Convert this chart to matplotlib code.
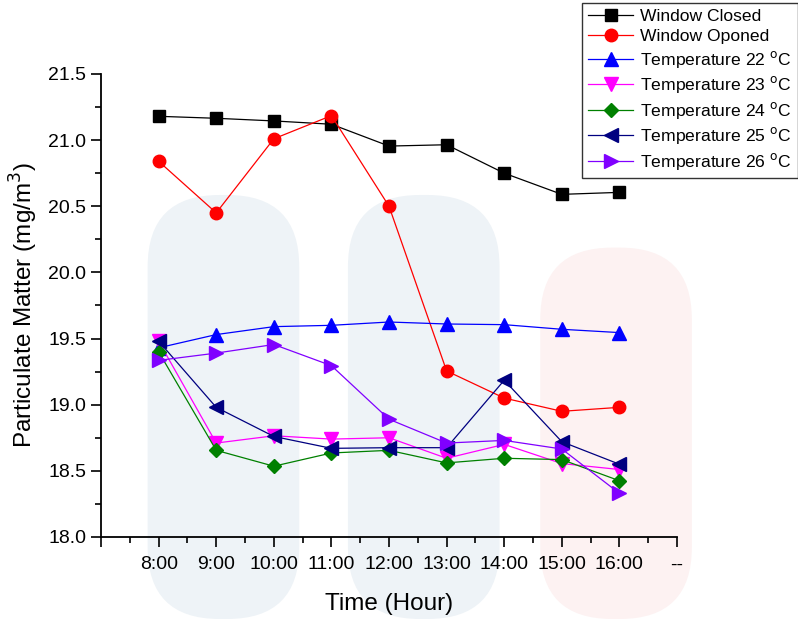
import numpy as np
import matplotlib
matplotlib.use('Agg')
from matplotlib import pyplot as plt
from matplotlib.patches import FancyBboxPatch
from matplotlib.ticker import MultipleLocator, FixedLocator

plt.rcParams['font.family'] = ['Liberation Sans', 'DejaVu Sans']

hours = ['8:00', '9:00', '10:00', '11:00', '12:00', '13:00', '14:00', '15:00', '16:00']
window_closed = [21.18, 21.165, 21.145, 21.12, 20.955, 20.965, 20.75, 20.59, 20.605]
window_opened = [20.84, 20.45, 21.01, 21.185, 20.50, 19.255, 19.05, 18.95, 18.98]
temp_22 = [19.43, 19.53, 19.59, 19.60, 19.625, 19.61, 19.605, 19.57, 19.545]
temp_23 = [19.48, 18.71, 18.765, 18.74, 18.75, 18.595, 18.70, 18.555, 18.51]
temp_24 = [19.40, 18.655, 18.535, 18.635, 18.655, 18.56, 18.595, 18.585, 18.425]
temp_25 = [19.48, 18.98, 18.76, 18.67, 18.675, 18.675, 19.185, 18.72, 18.55]
temp_26 = [19.335, 19.39, 19.455, 19.295, 18.89, 18.71, 18.73, 18.665, 18.33]

fig = plt.figure(figsize=(7.98, 6.19), dpi=100)
fig.patch.set_facecolor('w')

# faint watermark in the background
for x0, y0, w, h, c in [(0.185, 0.0, 0.19, 0.685, '#eef3f7'),
                        (0.436, 0.0, 0.19, 0.685, '#eef3f7'),
                        (0.677, 0.0, 0.19, 0.60, '#fdf2f2')]:
    fig.patches.append(FancyBboxPatch((x0, y0), w, h, boxstyle='round,pad=0,rounding_size=0.09',
                                      transform=fig.transFigure, fc=c, ec='none', zorder=-5,
                                      mutation_aspect=798 / 619))

ax = fig.add_axes([0.1266, 0.1325, 0.7218, 0.748])
ax.patch.set_alpha(0)
ax.set_zorder(1)

x = np.arange(1, len(hours) + 1)
ms = 8.5
ax.plot(x, window_closed, color='black', marker='s', ms=ms, lw=0.9, label='Window Closed')
ax.plot(x, window_opened, color='red', marker='o', ms=ms + 0.5, lw=0.9, label='Window Oponed')
ax.plot(x, temp_22, color='#0000ff', marker='^', ms=ms + 1, lw=0.9, label='Temperature 22 $^{\\mathrm{o}}$C')
ax.plot(x, temp_23, color='#ff00ff', marker='v', ms=ms + 1, lw=0.9, label='Temperature 23 $^{\\mathrm{o}}$C')
ax.plot(x, temp_24, color='#008000', marker='D', ms=ms - 1, lw=0.9, label='Temperature 24 $^{\\mathrm{o}}$C')
ax.plot(x, temp_25, color='#000080', marker='<', ms=ms + 1, lw=0.9, label='Temperature 25 $^{\\mathrm{o}}$C')
ax.plot(x, temp_26, color='#8000ff', marker='>', ms=ms + 1, lw=0.9, label='Temperature 26 $^{\\mathrm{o}}$C')

ax.set_xlim(0, 10)
ax.set_ylim(18.0, 21.5)
ax.xaxis.set_major_locator(FixedLocator(np.arange(0, 11)))
ax.set_xticklabels([''] + hours + ['--'])
ax.xaxis.set_minor_locator(MultipleLocator(0.5))
ax.yaxis.set_major_locator(MultipleLocator(0.5))
ax.yaxis.set_minor_locator(MultipleLocator(0.25))
ax.yaxis.set_major_formatter(matplotlib.ticker.FormatStrFormatter('%.1f'))
ax.tick_params(which='major', direction='out', length=7, width=1.2, labelsize=14, color='black')
ax.tick_params(axis='x', which='major', pad=7)
ax.tick_params(which='minor', direction='out', length=4, width=1.2)
ax.spines['right'].set_visible(False)
ax.spines['top'].set_visible(False)
ax.spines['left'].set_linewidth(1.3)
ax.spines['bottom'].set_linewidth(1.3)

ax.set_xlabel('Time (Hour)', fontsize=17.5, labelpad=14)
ax.set_ylabel('Particulate Matter (mg/m$^3$)', fontsize=17.5, labelpad=6)

leg = fig.legend(loc='upper right', bbox_to_anchor=(1.0, 0.995), fontsize=12.6, frameon=True,
                 fancybox=False, edgecolor='black', borderpad=0.35, labelspacing=0.26,
                 handlelength=2.6, handletextpad=0.4, borderaxespad=0)
leg.get_frame().set_linewidth(1.0)
leg.set_zorder(10)

plt.savefig('out.png', dpi=100)
plt.close('all')
